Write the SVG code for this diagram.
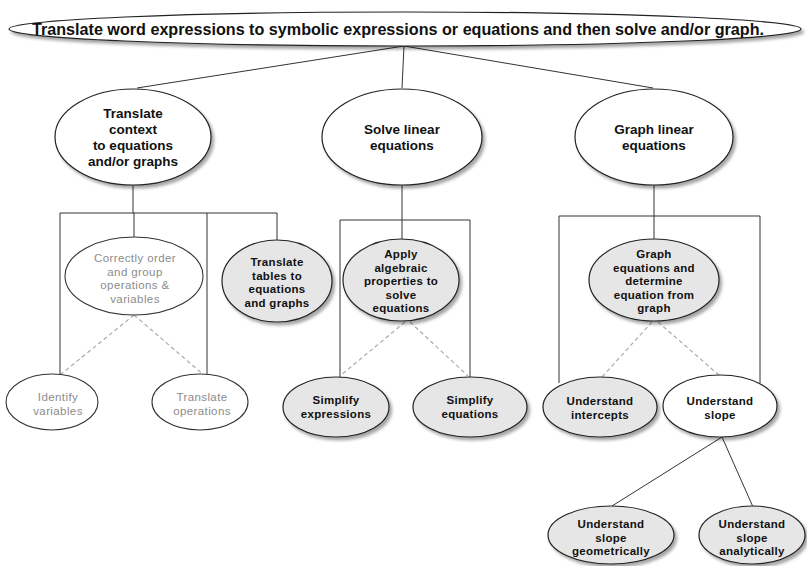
<svg xmlns="http://www.w3.org/2000/svg" width="807" height="566" viewBox="0 0 807 566">
<style>
.e{fill:#fff;stroke:#222;stroke-width:1.2;filter:url(#sh)}
.g{fill:#e6e6e6;stroke:#222;stroke-width:1.2;filter:url(#sh)}
.lt{fill:#fff;stroke:#333;stroke-width:1.1}
text{font-family:"Liberation Sans",Arial,sans-serif;text-anchor:middle;fill:#111}
.b{font-weight:bold;font-size:13.5px}
.s{font-weight:bold;font-size:11.5px;letter-spacing:0.3px}
.t{font-size:11.5px;fill:#8c8c8c;letter-spacing:0.4px}
.c{fill:none;stroke:#333;stroke-width:1}
.d{fill:none;stroke:#aaa;stroke-width:1.2;stroke-dasharray:4 3}
</style>
<defs>
<filter id="sh" x="-10%" y="-10%" width="125%" height="135%">
<feDropShadow dx="2.5" dy="3" stdDeviation="1.5" flood-color="#000" flood-opacity="0.35"/>
</filter>
</defs>
<rect width="807" height="566" fill="#fff"/>
<g id="connectors">
<path class="c" d="M404 46 L137 88 M404 46 L402 88 M404 46 L653 88"/>
<path class="c" d="M133 185 V213 M60 213 H277 M60 213 V375 M134 213 V237 M207 213 V376 M277 213 V240"/>
<path class="c" d="M402 185 V239 M340 220 H470 M340 220 V378 M470 220 V378"/>
<path class="c" d="M654 185 V239 M559 216 H760 M559 216 V383 M760 216 V383"/>
<path class="c" d="M722 437 L612 506 M722 437 L753 507"/>
<path class="d" d="M134 315 L60 375 M134 315 L205 376"/>
<path class="d" d="M405 322 L340 376 M410 322 L468 376"/>
<path class="d" d="M652 322 L602 377 M658 322 L720 376"/>
</g>
<g id="root">
<ellipse class="e" cx="405" cy="29" rx="396" ry="17"/>
<text x="398" y="35" style="font-weight:bold;font-size:16px" textLength="732" lengthAdjust="spacingAndGlyphs">Translate word expressions to symbolic expressions or equations and then solve and/or graph.</text>
</g>
<g id="translate-context">
<ellipse class="e" cx="133" cy="137" rx="78" ry="48"/>
<text class="b" x="133" y="118">Translate</text>
<text class="b" x="133" y="134">context</text>
<text class="b" x="133" y="150">to equations</text>
<text class="b" x="133" y="166">and/or graphs</text>
</g>
<g id="solve-linear">
<ellipse class="e" cx="402" cy="137" rx="80" ry="48"/>
<text class="b" x="402" y="134">Solve linear</text>
<text class="b" x="402" y="150">equations</text>
</g>
<g id="graph-linear">
<ellipse class="e" cx="654" cy="137" rx="79" ry="48"/>
<text class="b" x="654" y="134">Graph linear</text>
<text class="b" x="654" y="150">equations</text>
</g>
<g id="correctly-order">
<ellipse class="lt" cx="134" cy="276" rx="69" ry="39"/>
<text class="t" x="135" y="262">Correctly order</text>
<text class="t" x="135" y="275.5">and group</text>
<text class="t" x="135" y="289">operations &amp;</text>
<text class="t" x="135" y="302.5">variables</text>
</g>
<g id="translate-tables">
<ellipse class="g" cx="277" cy="281" rx="55" ry="41"/>
<text class="s" x="277" y="266">Translate</text>
<text class="s" x="277" y="279.5">tables to</text>
<text class="s" x="277" y="293">equations</text>
<text class="s" x="277" y="306.5">and graphs</text>
</g>
<g id="apply-algebraic">
<ellipse class="g" cx="401" cy="280" rx="58" ry="41"/>
<text class="s" x="401" y="258">Apply</text>
<text class="s" x="401" y="271.5">algebraic</text>
<text class="s" x="401" y="285">properties to</text>
<text class="s" x="401" y="298.5">solve</text>
<text class="s" x="401" y="312">equations</text>
</g>
<g id="graph-equations">
<ellipse class="g" cx="654" cy="280" rx="65" ry="41"/>
<text class="s" x="654" y="258">Graph</text>
<text class="s" x="654" y="271.5">equations and</text>
<text class="s" x="654" y="285">determine</text>
<text class="s" x="654" y="298.5">equation from</text>
<text class="s" x="654" y="312">graph</text>
</g>
<g id="identify-variables">
<ellipse class="lt" cx="52" cy="402" rx="46" ry="28"/>
<text class="t" x="58" y="401">Identify</text>
<text class="t" x="58" y="415">variables</text>
</g>
<g id="translate-operations">
<ellipse class="lt" cx="200" cy="402" rx="48" ry="28"/>
<text class="t" x="202" y="401">Translate</text>
<text class="t" x="202" y="415">operations</text>
</g>
<g id="simplify-expressions">
<ellipse class="g" cx="336" cy="407" rx="53" ry="30"/>
<text class="s" x="336" y="404">Simplify</text>
<text class="s" x="336" y="418">expressions</text>
</g>
<g id="simplify-equations">
<ellipse class="g" cx="470" cy="407" rx="57" ry="30"/>
<text class="s" x="470" y="404">Simplify</text>
<text class="s" x="470" y="418">equations</text>
</g>
<g id="understand-intercepts">
<ellipse class="g" cx="600" cy="407" rx="57" ry="30"/>
<text class="s" x="600" y="405">Understand</text>
<text class="s" x="600" y="418.5">intercepts</text>
</g>
<g id="understand-slope">
<ellipse class="e" cx="720" cy="406" rx="57" ry="31"/>
<text class="s" x="720" y="405">Understand</text>
<text class="s" x="720" y="418.5">slope</text>
</g>
<g id="slope-geometrically">
<ellipse class="g" cx="611" cy="535" rx="63" ry="29"/>
<text class="s" x="611" y="528">Understand</text>
<text class="s" x="611" y="541.5">slope</text>
<text class="s" x="611" y="555">geometrically</text>
</g>
<g id="slope-analytically">
<ellipse class="g" cx="752" cy="535" rx="53" ry="29"/>
<text class="s" x="752" y="528">Understand</text>
<text class="s" x="752" y="541.5">slope</text>
<text class="s" x="752" y="555">analytically</text>
</g>
</svg>
